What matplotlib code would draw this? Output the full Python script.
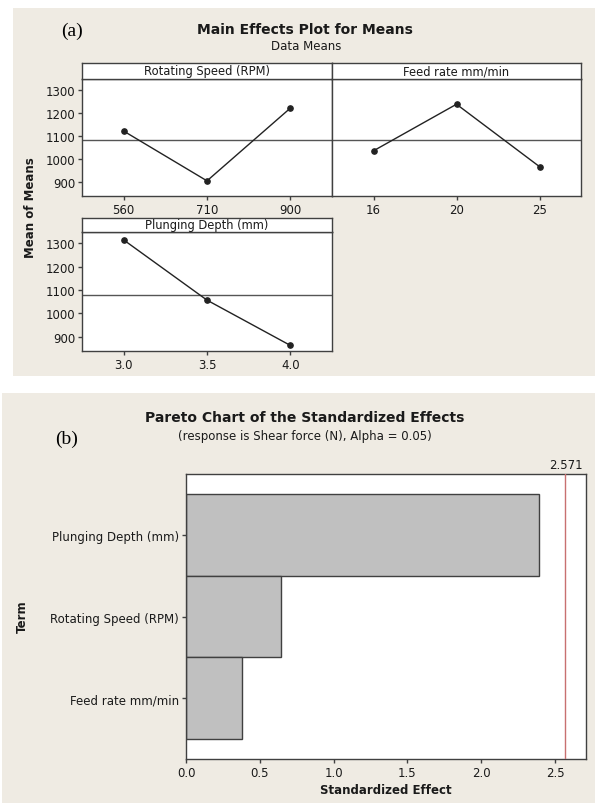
import matplotlib
matplotlib.use("Agg")
import matplotlib.pyplot as plt
from matplotlib.patches import Rectangle
import matplotlib.transforms as mtransforms
import numpy as np

# ---------------- data ----------------
speed_levels = ["560", "710", "900"]
speed_means = [1121, 904, 1221]

feed_levels = ["16", "20", "25"]
feed_means = [1035, 1238, 966]

depth_levels = ["3.0", "3.5", "4.0"]
depth_means = [1314, 1056, 862]

grand_mean = 1080
mean_ticks = [900, 1000, 1100, 1200, 1300]

terms = ["Plunging Depth (mm)", "Rotating Speed (RPM)", "Feed rate mm/min"]
std_effects = [2.39, 0.645, 0.38]
critical_value = 2.571
effect_ticks = [0.0, 0.5, 1.0, 1.5, 2.0, 2.5]

# ---------------- style ----------------
W, H = 595, 804
BEIGE = "#EFEBE3"
EDGE = "#404040"
TXT = "#1a1a1a"
plt.rcParams['font.family'] = ['DejaVu Sans']

fig = plt.figure(figsize=(W / 100, H / 100), dpi=100)
fig.patch.set_facecolor("white")


def px_axes(l, t, r, b):
    """add axes from pixel box (left, top, right, bottom)"""
    return fig.add_axes([l / W, 1 - b / H, (r - l) / W, (b - t) / H])


def fig_rect(l, t, r, b, color):
    fig.patches.append(Rectangle((l / W, 1 - b / H), (r - l) / W, (b - t) / H,
                                 transform=fig.transFigure, facecolor=color,
                                 edgecolor="none", zorder=-10))


def style_spines(ax):
    for s in ax.spines.values():
        s.set_color(EDGE)
        s.set_linewidth(1.0)


# backgrounds
fig_rect(13, 9, 595, 377, BEIGE)
fig_rect(2, 394, 595, 804, BEIGE)

#########################################
#       (a) Main effects plot
#########################################

def effect_panel(box, header_box, title, levels, means, show_y):
    ax = px_axes(*box)
    x = np.arange(len(levels))
    ax.axhline(grand_mean, color="#555555", lw=1.0, zorder=1)
    ax.plot(x, means, color="#222222", lw=1.0, marker="o", ms=3.8, zorder=2)
    ax.set_xlim(-0.5, len(levels) - 0.5)
    ax.set_ylim(838, 1348)
    ax.set_xticks(x)
    ax.set_xticklabels(levels)
    ax.set_yticks(mean_ticks)
    ax.tick_params(direction="out", length=3, width=1, color=EDGE,
                   labelsize=8.5, labelcolor=TXT, pad=2)
    if not show_y:
        ax.tick_params(axis="y", left=False, labelleft=False)
    style_spines(ax)

    hx = px_axes(*header_box)
    hx.set_xticks([])
    hx.set_yticks([])
    style_spines(hx)
    hx.text(0.5, 0.5, title, ha="center", va="center", fontsize=8.3,
            color=TXT, transform=hx.transAxes)
    return ax


effect_panel((82, 80, 332, 197), (82, 64, 332, 80),
             "Rotating Speed (RPM)", speed_levels, speed_means, True)
effect_panel((332, 80, 581, 197), (332, 64, 581, 80),
             "Feed rate mm/min", feed_levels, feed_means, False)
effect_panel((82, 233, 332, 352), (82, 219, 332, 233),
             "Plunging Depth (mm)", depth_levels, depth_means, True)

fig.text(305 / W, 1 - 30 / H, "Main Effects Plot for Means", ha="center",
         va="center", fontsize=10, fontweight="bold", color=TXT)
fig.text(306 / W, 1 - 46 / H, "Data Means", ha="center", va="center",
         fontsize=8.5, color=TXT)
fig.text(72 / W, 1 - 31 / H, "(a)", ha="center", va="center", fontsize=14,
         family="Liberation Serif", color="black")
fig.text(31 / W, 1 - 208 / H, "Mean of Means", ha="center", va="center",
         rotation=90, fontsize=8.5, fontweight="bold", color=TXT)

#########################################
#       (b) Pareto chart
#########################################

ax = px_axes(186, 475, 586, 760)
ypos = np.arange(len(terms))[::-1]
ax.barh(ypos, std_effects, height=1.0, color="#C0C0C0", edgecolor=EDGE,
        linewidth=1.0, zorder=2)
ax.axvline(critical_value, color="#C87070", lw=1.0, zorder=3)
ax.set_xlim(0, 2.71)
ax.set_ylim(-0.745, len(terms) - 0.255)
ax.set_yticks(ypos)
ax.set_yticklabels(terms)
ax.set_xticks(effect_ticks)
ax.set_xticklabels([f"{t:.1f}" for t in effect_ticks])
ax.tick_params(direction="out", length=3, width=1, color=EDGE,
               labelsize=8.5, labelcolor=TXT, pad=2)
style_spines(ax)

trans = mtransforms.blended_transform_factory(ax.transData, ax.transAxes)
ax.text(critical_value, 1.01, f"{critical_value}", transform=trans,
        ha="center", va="bottom", fontsize=8.5, color=TXT)

ax.set_xlabel("Standardized Effect", fontsize=8.5, fontweight="bold",
              color=TXT, labelpad=3)
fig.text(22 / W, 1 - 617 / H, "Term", ha="center", va="center", rotation=90,
         fontsize=8.5, fontweight="bold", color=TXT)

fig.text(305 / W, 1 - 418 / H, "Pareto Chart of the Standardized Effects",
         ha="center", va="center", fontsize=10, fontweight="bold", color=TXT)
fig.text(305 / W, 1 - 437 / H, "(response is Shear force (N), Alpha = 0.05)",
         ha="center", va="center", fontsize=8.5, color=TXT)
fig.text(67 / W, 1 - 439 / H, "(b)", ha="center", va="center", fontsize=14,
         family="Liberation Serif", color="black")

fig.savefig("out.png", dpi=100)
